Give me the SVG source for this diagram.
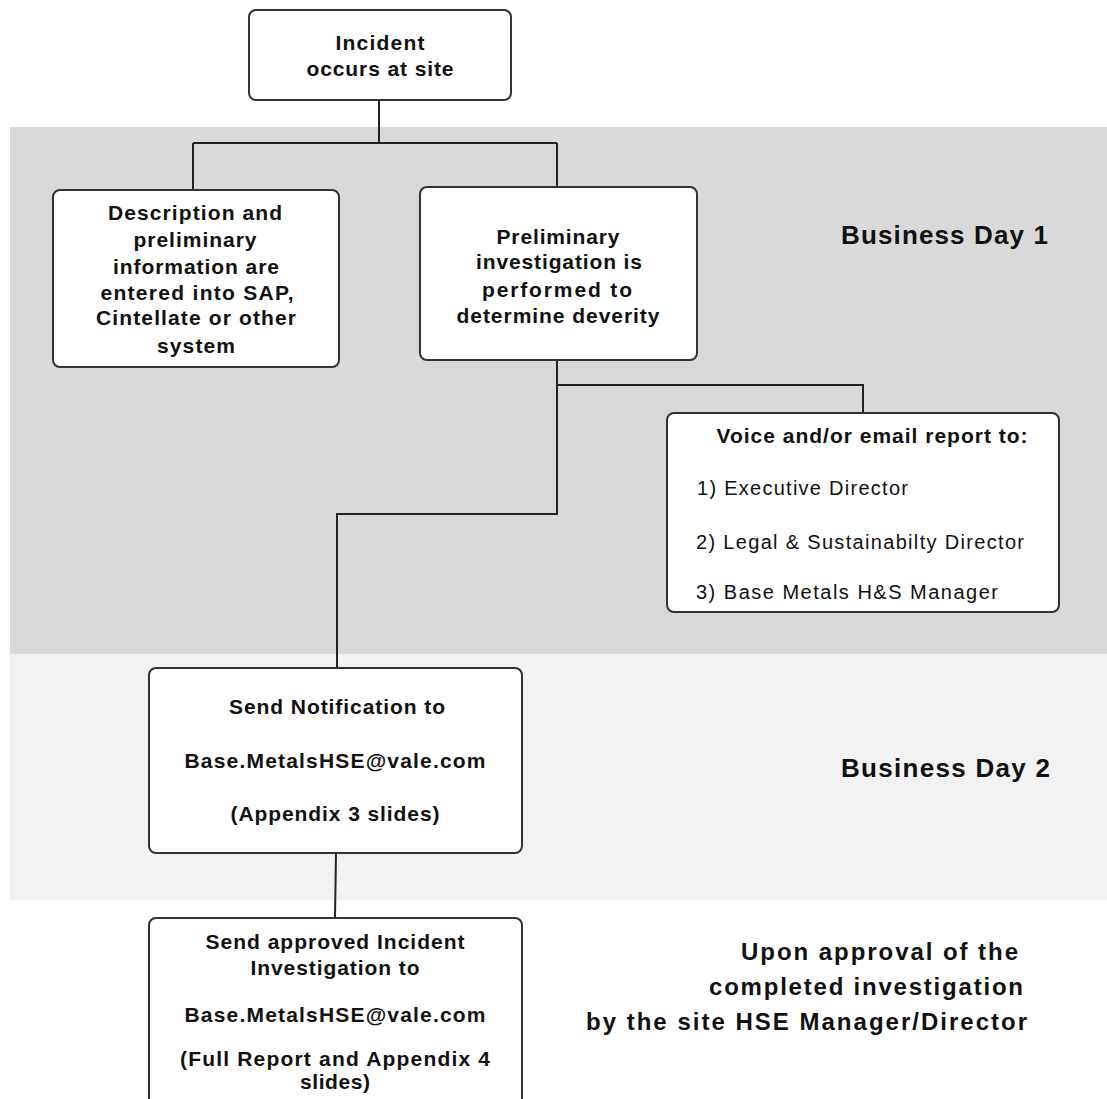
<svg xmlns="http://www.w3.org/2000/svg" width="1107" height="1099" viewBox="0 0 1107 1099">
<style>
.node rect{fill:#fff;stroke:#333;stroke-width:2}
text{font-family:"Liberation Sans",Arial,sans-serif;fill:#111}
.t{font-size:21px;font-weight:bold;text-anchor:middle}
.l{font-size:20px;font-weight:normal}
.big{font-size:26px;font-weight:bold}
.up{font-size:24px;font-weight:bold;text-anchor:end}
.conn path{fill:none;stroke:#222;stroke-width:2}
</style>
<rect x="0" y="0" width="1107" height="1099" fill="#fff"/>
<rect x="10" y="127" width="1097" height="527" fill="#d9d9d9"/>
<rect x="10" y="654" width="1097" height="246" fill="#f2f2f2"/>
<g class="conn">
<path d="M379,100 V143 M193,143 H557 M193,143 V190 M557,143 V187"/>
<path d="M557,360 V385 H863 V413"/>
<path d="M557,385 V514 H337 V668"/>
<path d="M336,853 L335,918"/>
</g>
<g class="node" id="incident">
<rect x="249" y="10" width="262" height="90" rx="7"/>
<text class="t" x="380" y="50" textLength="89">Incident</text>
<text class="t" x="380" y="76" textLength="147">occurs at site</text>
</g>
<g class="node" id="description">
<rect x="53" y="190" width="286" height="177" rx="7"/>
<text class="t" x="195" y="220" textLength="174">Description and</text>
<text class="t" x="195" y="247" textLength="123">preliminary</text>
<text class="t" x="196" y="274" textLength="166">information are</text>
<text class="t" x="197" y="300" textLength="193">entered into SAP,</text>
<text class="t" x="196" y="325" textLength="200">Cintellate or other</text>
<text class="t" x="196" y="353" textLength="78">system</text>
</g>
<g class="node" id="preliminary">
<rect x="420" y="187" width="277" height="173" rx="7"/>
<text class="t" x="558" y="244" textLength="123">Preliminary</text>
<text class="t" x="559" y="269" textLength="166">investigation is</text>
<text class="t" x="557" y="297" textLength="150">performed to</text>
<text class="t" x="558" y="323" textLength="203">determine deverity</text>
</g>
<g class="node" id="voice">
<rect x="667" y="413" width="392" height="199" rx="7"/>
<text class="t" x="872" y="443" textLength="311">Voice and/or email report to:</text>
<text class="l" x="697" y="495" textLength="211">1) Executive Director</text>
<text class="l" x="696" y="549" textLength="328">2) Legal &amp; Sustainabilty Director</text>
<text class="l" x="696" y="599" textLength="302">3) Base Metals H&amp;S Manager</text>
</g>
<g class="node" id="notification">
<rect x="149" y="668" width="373" height="185" rx="7"/>
<text class="t" x="337" y="714" textLength="216">Send Notification to</text>
<text class="t" x="335" y="768" textLength="301">Base.MetalsHSE@vale.com</text>
<text class="t" x="335" y="821" textLength="209">(Appendix 3 slides)</text>
</g>
<g class="node" id="approved">
<rect x="149" y="918" width="373" height="200" rx="7"/>
<text class="t" x="335" y="949" textLength="259">Send approved Incident</text>
<text class="t" x="335" y="975" textLength="169">Investigation to</text>
<text class="t" x="335" y="1022" textLength="301">Base.MetalsHSE@vale.com</text>
<text class="t" x="335" y="1066" textLength="310">(Full Report and Appendix 4</text>
<text class="t" x="335" y="1089" textLength="70">slides)</text>
</g>
<g id="labels">
<text class="big" x="841" y="244" textLength="207">Business Day 1</text>
<text class="big" x="841" y="777" textLength="209">Business Day 2</text>
<text class="up" x="1018" y="960" textLength="277">Upon approval of the</text>
<text class="up" x="1023" y="995" textLength="314">completed investigation</text>
<text class="up" x="1027" y="1030" textLength="441">by the site HSE Manager/Director</text>
</g>
</svg>
